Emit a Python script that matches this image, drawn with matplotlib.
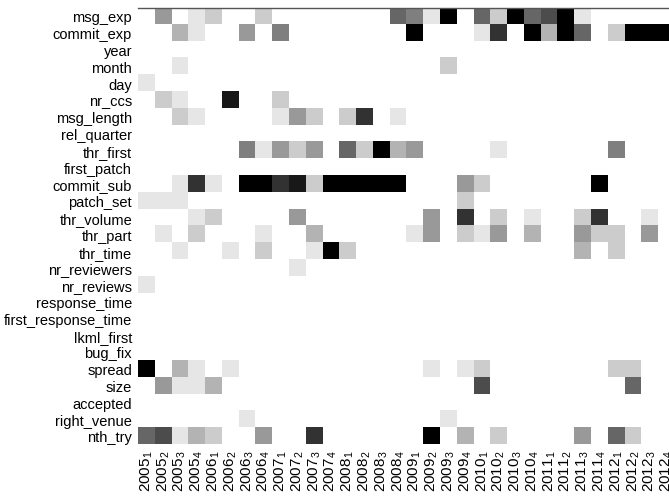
import numpy as np
import matplotlib
matplotlib.use("Agg")
import matplotlib.pyplot as plt

# feature names, top to bottom
features = [
    "msg_exp", "commit_exp", "year", "month", "day", "nr_ccs", "msg_length",
    "rel_quarter", "thr_first", "first_patch", "commit_sub", "patch_set",
    "thr_volume", "thr_part", "thr_time", "nr_reviewers", "nr_reviews",
    "response_time", "first_response_time", "lkml_first", "bug_fix",
    "spread", "size", "accepted", "right_venue", "nth_try",
]

# quarters 2005_1 .. 2012_4
years = list(range(2005, 2013))
quarters = [1, 2, 3, 4]

# importance level per feature and quarter (0 = unused, 10 = strongest)
importance = [
    # msg_exp
    [0, 4, 0, 1, 2, 0, 0, 2, 0, 0, 0, 0, 0, 0, 0, 6, 5, 1, 10, 0, 6, 2, 10, 6, 7, 10, 1, 0, 0, 0, 0, 0],
    # commit_exp
    [0, 0, 3, 1, 0, 0, 4, 0, 5, 0, 0, 0, 0, 0, 0, 0, 10, 0, 0, 0, 1, 8, 0, 10, 3, 10, 6, 0, 2, 10, 10, 10],
    # year
    [0] * 32,
    # month
    [0, 0, 1, 0, 0, 0, 0, 0, 0, 0, 0, 0, 0, 0, 0, 0, 0, 0, 2, 0, 0, 0, 0, 0, 0, 0, 0, 0, 0, 0, 0, 0],
    # day
    [1, 0, 0, 0, 0, 0, 0, 0, 0, 0, 0, 0, 0, 0, 0, 0, 0, 0, 0, 0, 0, 0, 0, 0, 0, 0, 0, 0, 0, 0, 0, 0],
    # nr_ccs
    [0, 2, 1, 0, 0, 9, 0, 0, 2, 0, 0, 0, 0, 0, 0, 0, 0, 0, 0, 0, 0, 0, 0, 0, 0, 0, 0, 0, 0, 0, 0, 0],
    # msg_length
    [0, 0, 2, 1, 0, 0, 0, 0, 1, 4, 2, 0, 2, 8, 0, 1, 0, 0, 0, 0, 0, 0, 0, 0, 0, 0, 0, 0, 0, 0, 0, 0],
    # rel_quarter
    [0] * 32,
    # thr_first
    [0, 0, 0, 0, 0, 0, 5, 1, 4, 2, 4, 0, 6, 2, 10, 3, 4, 0, 0, 0, 0, 1, 0, 0, 0, 0, 0, 0, 5, 0, 0, 0],
    # first_patch
    [0] * 32,
    # commit_sub
    [0, 0, 1, 8, 1, 0, 10, 10, 8, 9, 2, 10, 10, 10, 10, 10, 0, 0, 0, 4, 2, 0, 0, 0, 0, 0, 0, 10, 0, 0, 0, 0],
    # patch_set
    [1, 1, 1, 0, 0, 0, 0, 0, 0, 0, 0, 0, 0, 0, 0, 0, 0, 0, 0, 2, 0, 0, 0, 0, 0, 0, 0, 0, 0, 0, 0, 0],
    # thr_volume
    [0, 0, 0, 1, 2, 0, 0, 0, 0, 4, 0, 0, 0, 0, 0, 0, 0, 4, 0, 8, 0, 2, 0, 1, 0, 0, 2, 8, 0, 0, 1, 0],
    # thr_part
    [0, 1, 0, 2, 0, 0, 0, 1, 0, 0, 3, 0, 0, 0, 0, 0, 1, 4, 0, 2, 1, 4, 0, 3, 0, 0, 4, 2, 2, 0, 4, 0],
    # thr_time
    [0, 0, 1, 0, 0, 1, 0, 2, 0, 0, 1, 10, 2, 0, 0, 0, 0, 0, 0, 0, 0, 0, 0, 0, 0, 0, 3, 0, 2, 0, 0, 0],
    # nr_reviewers
    [0, 0, 0, 0, 0, 0, 0, 0, 0, 1, 0, 0, 0, 0, 0, 0, 0, 0, 0, 0, 0, 0, 0, 0, 0, 0, 0, 0, 0, 0, 0, 0],
    # nr_reviews
    [1, 0, 0, 0, 0, 0, 0, 0, 0, 0, 0, 0, 0, 0, 0, 0, 0, 0, 0, 0, 0, 0, 0, 0, 0, 0, 0, 0, 0, 0, 0, 0],
    # response_time
    [0] * 32,
    # first_response_time
    [0] * 32,
    # lkml_first
    [0] * 32,
    # bug_fix
    [0] * 32,
    # spread
    [10, 0, 3, 1, 0, 1, 0, 0, 0, 0, 0, 0, 0, 0, 0, 0, 0, 1, 0, 1, 2, 0, 0, 0, 0, 0, 0, 0, 2, 2, 0, 0],
    # size
    [0, 4, 1, 1, 3, 0, 0, 0, 0, 0, 0, 0, 0, 0, 0, 0, 0, 0, 0, 0, 7, 0, 0, 0, 0, 0, 0, 0, 0, 6, 0, 0],
    # accepted
    [0] * 32,
    # right_venue
    [0, 0, 0, 0, 0, 0, 1, 0, 0, 0, 0, 0, 0, 0, 0, 0, 0, 0, 1, 0, 0, 0, 0, 0, 0, 0, 0, 0, 0, 0, 0, 0],
    # nth_try
    [6, 7, 1, 3, 2, 0, 0, 4, 0, 0, 8, 0, 0, 0, 0, 0, 0, 10, 0, 3, 0, 2, 0, 0, 0, 0, 4, 0, 6, 2, 0, 0],
]

plt.rcParams["font.family"] = ["Liberation Sans", "DejaVu Sans"]
plt.rcParams["mathtext.fontset"] = "custom"
plt.rcParams["mathtext.rm"] = "Liberation Sans"

W, H = 669, 502
fig = plt.figure(figsize=(W / 100, H / 100), dpi=100)
# the grid runs a little past the right edge of the canvas
ax = fig.add_axes([138.3 / W, (H - 445.3) / H, 537 / W, 436.8 / H])

grid = np.array(importance, dtype=float)
ax.imshow(grid, cmap="gray_r", vmin=0, vmax=10, aspect="auto",
          interpolation="nearest")

col_labels = [r"$\mathregular{%d_{%d}}$" % (y, q) for y in years for q in quarters]
ax.set_xticks(np.arange(len(col_labels)))
ax.set_xticklabels(col_labels, rotation=90, fontsize=11)
ax.set_yticks(np.arange(len(features)))
ax.set_yticklabels(features, fontsize=10.5)
ax.tick_params(length=0, pad=4.5)
ax.tick_params(axis="x", pad=3.5)

for side in ["left", "right", "bottom"]:
    ax.spines[side].set_visible(False)
ax.spines["top"].set_color("#555555")
ax.spines["top"].set_linewidth(1.0)

fig.savefig("out.png", dpi=100)
